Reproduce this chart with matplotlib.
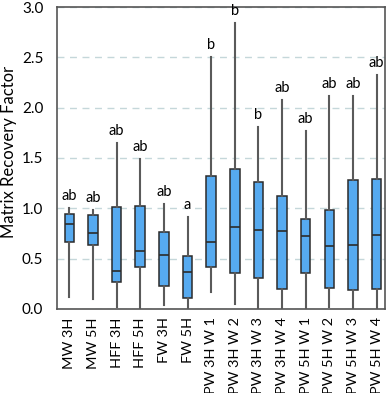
import matplotlib
matplotlib.use("Agg")
import matplotlib.pyplot as plt

plt.rcParams['font.family'] = ['Lato', 'DejaVu Sans']

categories = ["MW 3H", "MW 5H", "HFF 3H", "HFF 5H", "FW 3H", "FW 5H",
              "PW 3H W 1", "PW 3H W 2", "PW 3H W 3", "PW 3H W 4",
              "PW 5H W 1", "PW 5H W 2", "PW 5H W 3", "PW 5H W 4"]
whisk_lo = [0.12, 0.10, 0.02, 0.00, 0.04, 0.00, 0.17, 0.05, 0.00, 0.00, 0.00, 0.02, 0.00, 0.00]
q1 = [0.66, 0.64, 0.27, 0.42, 0.23, 0.11, 0.42, 0.36, 0.31, 0.20, 0.36, 0.21, 0.19, 0.20]
med = [0.84, 0.75, 0.38, 0.58, 0.54, 0.37, 0.66, 0.81, 0.78, 0.77, 0.72, 0.63, 0.64, 0.73]
q3 = [0.94, 0.93, 1.01, 1.02, 0.76, 0.53, 1.32, 1.39, 1.26, 1.12, 0.89, 0.98, 1.28, 1.29]
whisk_hi = [1.00, 0.98, 1.65, 1.49, 1.04, 0.91, 2.50, 2.84, 1.81, 2.08, 1.77, 2.12, 2.12, 2.32]
letters = ["ab", "ab", "ab", "ab", "ab", "a", "b", "b", "b", "ab", "ab", "ab", "ab", "ab"]

fig = plt.figure(figsize=(3.92, 3.93), dpi=100)
ax = fig.add_axes([0.146, 0.214, 0.836, 0.768])

stats = []
for i, c in enumerate(categories):
    stats.append(dict(label=c, whislo=whisk_lo[i], q1=q1[i], med=med[i],
                      q3=q3[i], whishi=whisk_hi[i], fliers=[]))

pos = list(range(1, len(categories) + 1))
ax.bxp(stats, positions=pos, widths=0.4, patch_artist=True, showcaps=False,
       boxprops=dict(facecolor='#56aaf0', edgecolor='#2b2b2b', linewidth=1.1),
       medianprops=dict(color='#2b2b2b', linewidth=1.2),
       whiskerprops=dict(color='#5a5a5a', linewidth=1.5),
       zorder=3)

for p, h, t in zip(pos, whisk_hi, letters):
    ax.text(p, h + 0.05, t, ha='center', va='bottom', fontsize=10.5, color='#000000')

ax.set_ylim(0, 3.0)
ax.set_xlim(0.49, 14.35)
ax.set_yticks([0, 0.5, 1.0, 1.5, 2.0, 2.5, 3.0])
ax.set_yticklabels(["0.0", "0.5", "1.0", "1.5", "2.0", "2.5", "3.0"])
ax.set_xticks(pos)
ax.set_xticklabels(categories, rotation=90, fontsize=10.4)
ax.tick_params(axis='x', length=0, pad=6, labelcolor='#000000')
ax.tick_params(axis='y', length=0, pad=10, labelsize=11, labelcolor='#000000')
ax.yaxis.grid(True, linestyle=(0, (5, 4)), color='#c5d7da', linewidth=1.0, zorder=0)
ax.set_axisbelow(True)
for s in ax.spines.values():
    s.set_color('#555555')
    s.set_linewidth(1.2)
ax.set_ylabel("Matrix Recovery Factor", fontsize=12)
ax.yaxis.set_label_coords(-0.122, 0.52)

fig.savefig("out.png", dpi=100)
